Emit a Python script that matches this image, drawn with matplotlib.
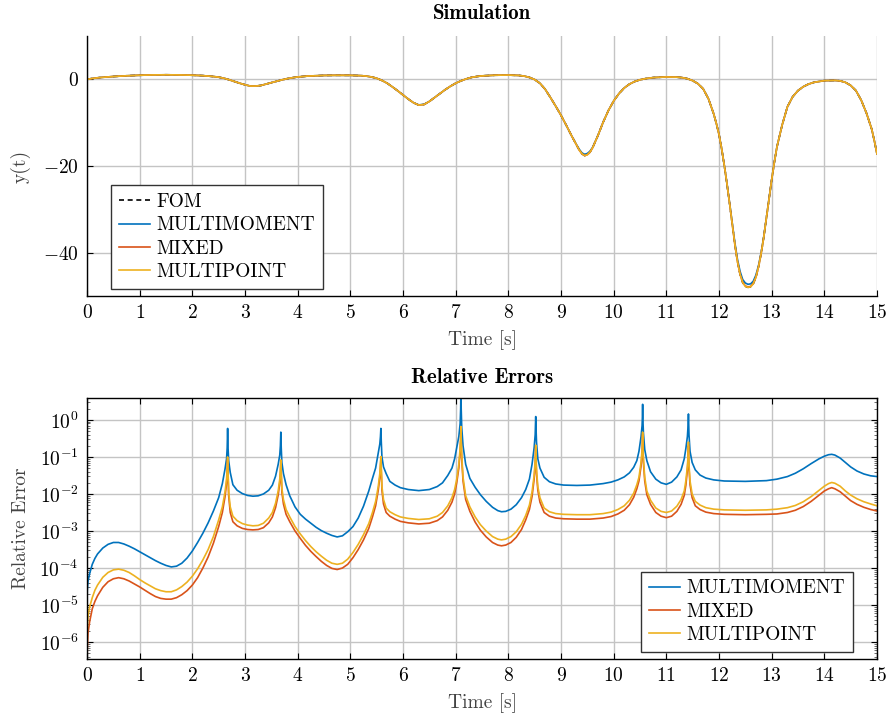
import numpy as np
import matplotlib
matplotlib.use("Agg")
import matplotlib.pyplot as plt

plt.rcParams['font.family'] = ['cmr10', 'DejaVu Serif']
plt.rcParams['mathtext.fontset'] = 'cm'
plt.rcParams['axes.formatter.use_mathtext'] = True
plt.rcParams['axes.unicode_minus'] = True

# ---------------- data: simulation ----------------
t_sim = [0, 0.1, 0.2, 0.3, 0.5, 0.75, 1.0, 1.25, 1.5, 1.75,
         2.0, 2.2, 2.4, 2.5, 2.6, 2.7, 2.8, 2.9, 3.0, 3.1,
         3.2, 3.3, 3.4, 3.5, 3.6, 3.7, 3.8, 3.9, 4.0, 4.2,
         4.5, 4.75, 5.0, 5.2, 5.3, 5.4, 5.5, 5.6, 5.7, 5.8,
         5.9, 6.0, 6.1, 6.2, 6.3, 6.4, 6.5, 6.6, 6.7, 6.8,
         6.9, 7.0, 7.1, 7.2, 7.3, 7.4, 7.5, 7.75, 8.0, 8.2,
         8.3, 8.4, 8.5, 8.6, 8.7, 8.8, 8.9, 9.0, 9.1, 9.2,
         9.3, 9.35, 9.4, 9.45, 9.5, 9.55, 9.6, 9.7, 9.8, 9.9,
         10.0, 10.1, 10.2, 10.3, 10.4, 10.5, 10.6, 10.75, 11.0, 11.2,
         11.3, 11.4, 11.5, 11.6, 11.7, 11.8, 11.9, 11.95, 12.0, 12.05,
         12.1, 12.15, 12.2, 12.25, 12.3, 12.35, 12.4, 12.45, 12.5, 12.55,
         12.6, 12.65, 12.7, 12.75, 12.8, 12.85, 12.9, 12.95, 13.0, 13.05,
         13.1, 13.2, 13.3, 13.4, 13.5, 13.6, 13.7, 13.8, 14.0, 14.2,
         14.3, 14.4, 14.5, 14.6, 14.7, 14.8, 14.9, 14.95, 15.0]

y_fom = [0.0, 0.2, 0.35, 0.47, 0.65, 0.82, 0.94, 1.02, 1.05, 1.02,
         0.95, 0.85, 0.65, 0.5, 0.25, -0.1, -0.5, -0.9, -1.25, -1.55,
         -1.55, -1.42, -1.1, -0.78, -0.45, -0.12, 0.15, 0.37, 0.55, 0.76,
         0.9, 0.93, 0.92, 0.85, 0.75, 0.55, 0.25, -0.25, -0.9, -1.75,
         -2.65, -3.6, -4.55, -5.4, -5.95, -5.8, -5.1, -4.2, -3.3, -2.4,
         -1.6, -0.9, -0.35, 0.1, 0.45, 0.65, 0.8, 0.95, 0.98, 0.9,
         0.75, 0.45, -0.05, -0.9, -2.3, -4.2, -6.2, -8.3, -10.6, -13.0,
         -15.3, -16.4, -17.2, -17.6, -17.4, -16.8, -15.8, -13.0, -9.9, -7.2,
         -5.0, -3.3, -2.0, -1.1, -0.5, -0.1, 0.15, 0.4, 0.55, 0.5,
         0.4, 0.15, -0.3, -1.0, -2.2, -4.5, -8.0, -10.2, -12.7, -16.0,
         -19.8, -24.0, -28.5, -33.2, -38.0, -42.0, -45.0, -46.9, -47.8, -48.0,
         -47.9, -47.2, -45.7, -43.3, -40.2, -36.4, -32.0, -27.5, -23.2, -19.2,
         -15.6, -10.5, -6.3, -4.0, -2.6, -1.7, -1.1, -0.7, -0.3, -0.25,
         -0.35, -0.7, -1.4, -2.6, -4.8, -7.8, -11.5, -14.2, -17.2]

y_multimoment = [0.0, 0.2, 0.35, 0.47, 0.65, 0.82, 0.94, 1.02, 1.05, 1.02,
         0.95, 0.85, 0.65, 0.5, 0.25, -0.1, -0.5, -0.9, -1.25, -1.55,
         -1.55, -1.42, -1.1, -0.78, -0.45, -0.12, 0.15, 0.37, 0.55, 0.76,
         0.9, 0.93, 0.92, 0.85, 0.75, 0.55, 0.25, -0.25, -0.9, -1.75,
         -2.65, -3.6, -4.55, -5.4, -5.9, -5.75, -5.1, -4.2, -3.3, -2.4,
         -1.6, -0.9, -0.35, 0.1, 0.45, 0.65, 0.8, 0.95, 0.98, 0.9,
         0.75, 0.45, -0.05, -0.9, -2.3, -4.2, -6.2, -8.3, -10.6, -13.0,
         -15.2, -16.2, -17.0, -17.3, -17.1, -16.6, -15.7, -13.0, -9.9, -7.2,
         -5.0, -3.3, -2.0, -1.1, -0.5, -0.1, 0.15, 0.4, 0.55, 0.5,
         0.4, 0.15, -0.3, -1.0, -2.2, -4.5, -8.0, -10.2, -12.7, -16.0,
         -19.8, -24.0, -28.4, -33.0, -37.6, -41.5, -44.3, -46.2, -47.0, -47.3,
         -47.2, -46.6, -45.2, -43.0, -40.0, -36.3, -32.0, -27.5, -23.2, -19.2,
         -15.6, -10.5, -6.3, -4.0, -2.6, -1.7, -1.1, -0.7, -0.3, -0.25,
         -0.35, -0.7, -1.4, -2.6, -4.8, -7.8, -11.5, -14.2, -17.2]

y_mixed = [0.0, 0.2, 0.35, 0.47, 0.65, 0.82, 0.94, 1.02, 1.05, 1.02,
         0.95, 0.85, 0.65, 0.5, 0.25, -0.1, -0.5, -0.9, -1.25, -1.55,
         -1.55, -1.42, -1.1, -0.78, -0.45, -0.12, 0.15, 0.37, 0.55, 0.76,
         0.9, 0.93, 0.92, 0.85, 0.75, 0.55, 0.25, -0.25, -0.9, -1.75,
         -2.65, -3.6, -4.55, -5.4, -5.95, -5.8, -5.1, -4.2, -3.3, -2.4,
         -1.6, -0.9, -0.35, 0.1, 0.45, 0.65, 0.8, 0.95, 0.98, 0.9,
         0.75, 0.45, -0.05, -0.9, -2.3, -4.2, -6.2, -8.3, -10.6, -13.0,
         -15.3, -16.4, -17.2, -17.6, -17.4, -16.8, -15.8, -13.0, -9.9, -7.2,
         -5.0, -3.3, -2.0, -1.1, -0.5, -0.1, 0.15, 0.4, 0.55, 0.5,
         0.4, 0.15, -0.3, -1.0, -2.2, -4.5, -8.0, -10.2, -12.7, -16.0,
         -19.8, -24.0, -28.5, -33.2, -38.0, -42.0, -45.0, -46.8, -47.7, -47.9,
         -47.8, -47.1, -45.7, -43.3, -40.2, -36.4, -32.0, -27.5, -23.2, -19.2,
         -15.6, -10.5, -6.3, -4.0, -2.6, -1.7, -1.1, -0.7, -0.3, -0.25,
         -0.35, -0.7, -1.4, -2.6, -4.8, -7.8, -11.5, -14.2, -17.2]

y_multipoint = [0.0, 0.2, 0.35, 0.47, 0.65, 0.82, 0.94, 1.02, 1.05, 1.02,
         0.95, 0.85, 0.65, 0.5, 0.25, -0.1, -0.5, -0.9, -1.25, -1.55,
         -1.55, -1.42, -1.1, -0.78, -0.45, -0.12, 0.15, 0.37, 0.55, 0.76,
         0.9, 0.93, 0.92, 0.85, 0.75, 0.55, 0.25, -0.25, -0.9, -1.75,
         -2.65, -3.6, -4.55, -5.4, -5.95, -5.8, -5.1, -4.2, -3.3, -2.4,
         -1.6, -0.9, -0.35, 0.1, 0.45, 0.65, 0.8, 0.95, 0.98, 0.9,
         0.75, 0.45, -0.05, -0.9, -2.3, -4.2, -6.2, -8.3, -10.6, -13.0,
         -15.3, -16.4, -17.2, -17.6, -17.4, -16.8, -15.8, -13.0, -9.9, -7.2,
         -5.0, -3.3, -2.0, -1.1, -0.5, -0.1, 0.15, 0.4, 0.55, 0.5,
         0.4, 0.15, -0.3, -1.0, -2.2, -4.5, -8.0, -10.2, -12.7, -16.0,
         -19.8, -24.0, -28.5, -33.2, -38.0, -42.0, -45.0, -46.9, -47.8, -48.0,
         -47.9, -47.2, -45.7, -43.3, -40.2, -36.4, -32.0, -27.5, -23.2, -19.2,
         -15.6, -10.5, -6.3, -4.0, -2.6, -1.7, -1.1, -0.7, -0.3, -0.25,
         -0.35, -0.7, -1.4, -2.6, -4.8, -7.8, -11.5, -14.2, -17.2]

# ---------------- data: relative errors (log10 of the value, read on the decade grid) ----------------
t_err = [0, 0.005, 0.02, 0.05, 0.1, 0.15, 0.2, 0.3, 0.4, 0.5,
         0.6, 0.7, 0.8, 0.9, 1.0, 1.1, 1.2, 1.3, 1.4, 1.5,
         1.6, 1.7, 1.8, 1.9, 2.0, 2.1, 2.2, 2.3, 2.4, 2.5,
         2.57, 2.62, 2.65, 2.662, 2.67, 2.678, 2.69, 2.72, 2.77,
         2.85, 2.95, 3.05, 3.15, 3.25, 3.35, 3.45, 3.52,
         3.58, 3.63, 3.66, 3.672, 3.68, 3.688, 3.70, 3.73, 3.78,
         3.85, 3.95, 4.05, 4.15, 4.25, 4.35, 4.45, 4.55, 4.65, 4.75,
         4.85, 4.95, 5.05, 5.15, 5.25, 5.35, 5.42,
         5.48, 5.53, 5.56, 5.572, 5.58, 5.588, 5.60, 5.63, 5.68,
         5.75, 5.85, 5.95, 6.1, 6.3, 6.5, 6.65, 6.75, 6.85, 6.93, 6.98,
         7.02, 7.06, 7.085, 7.095, 7.10, 7.105, 7.115, 7.14, 7.19,
         7.27, 7.37, 7.47, 7.58, 7.7, 7.8, 7.87, 7.95, 8.05, 8.15, 8.25, 8.33, 8.4,
         8.45, 8.49, 8.51, 8.515, 8.52, 8.525, 8.535, 8.56, 8.6,
         8.68, 8.78, 8.9, 9.05, 9.3, 9.55, 9.8, 9.95, 10.08, 10.2, 10.3, 10.38, 10.44,
         10.48, 10.52, 10.54, 10.545, 10.55, 10.555, 10.565, 10.59, 10.63,
         10.7, 10.8, 10.9, 11.0, 11.1, 11.2, 11.28, 11.34,
         11.37, 11.4, 11.413, 11.417, 11.42, 11.423, 11.43, 11.45, 11.49,
         11.55, 11.64, 11.75, 11.9, 12.1, 12.5, 12.9, 13.1, 13.3, 13.45, 13.6, 13.75,
         13.9, 14.0, 14.08, 14.14, 14.2, 14.3, 14.4, 14.5, 14.62, 14.75, 14.88, 15.0]

log10_err_multimoment = [-5.0, -4.6, -4.35, -4.15, -3.9, -3.74, -3.62, -3.46, -3.36, -3.31,
         -3.31, -3.35, -3.41, -3.48, -3.56, -3.64, -3.72, -3.8, -3.87, -3.93,
         -3.97, -3.95, -3.87, -3.73, -3.54, -3.31, -3.06, -2.78, -2.46, -2.1,
         -1.72, -1.33, -1.05, -0.75, -0.23, -0.75, -1.1, -1.42, -1.75,
         -1.9, -1.99, -2.04, -2.06, -2.05, -2.0, -1.9, -1.76,
         -1.52, -1.2, -0.95, -0.7, -0.33, -0.75, -1.15, -1.45, -1.75,
         -2.05, -2.35, -2.55, -2.68, -2.79, -2.9, -2.99, -3.06, -3.12, -3.16,
         -3.13, -3.02, -2.88, -2.65, -2.33, -1.92, -1.58,
         -1.3, -0.9, -0.65, -0.45, -0.23, -0.6, -1.0, -1.27, -1.45,
         -1.66, -1.76, -1.83, -1.88, -1.91, -1.88, -1.8, -1.7, -1.5, -1.3, -1.05,
         -0.75, -0.45, -0.1, 0.3, 0.8, 0.3, -0.2, -0.7, -1.2,
         -1.58, -1.82, -2.02, -2.2, -2.36, -2.45, -2.48, -2.47, -2.41, -2.29, -2.1, -1.88, -1.6,
         -1.2, -0.75, -0.4, -0.15, 0.09, -0.2, -0.6, -1.05, -1.3,
         -1.55, -1.67, -1.73, -1.76, -1.77, -1.76, -1.72, -1.68, -1.62, -1.54, -1.43, -1.28, -1.1,
         -0.85, -0.45, -0.15, 0.05, 0.42, 0.0, -0.35, -0.8, -1.1,
         -1.4, -1.6, -1.7, -1.74, -1.68, -1.54, -1.35, -1.05,
         -0.78, -0.45, -0.15, 0.0, 0.16, -0.05, -0.4, -0.85, -1.15,
         -1.35, -1.49, -1.57, -1.62, -1.65, -1.66, -1.64, -1.6, -1.53, -1.44, -1.32, -1.18,
         -1.05, -0.98, -0.94, -0.93, -0.95, -1.03, -1.15, -1.27, -1.38, -1.46, -1.51, -1.53]

log10_err_mixed = [-6.8, -6.2, -5.75, -5.45, -5.1, -4.9, -4.75, -4.52, -4.37, -4.29,
         -4.26, -4.29, -4.35, -4.43, -4.51, -4.6, -4.69, -4.77, -4.82, -4.84,
         -4.84, -4.8, -4.72, -4.61, -4.46, -4.26, -4.0, -3.7, -3.33, -2.88,
         -2.5, -2.08, -1.72, -1.4, -1.08, -1.5, -2.05, -2.5, -2.75,
         -2.86, -2.93, -2.96, -2.97, -2.96, -2.91, -2.78, -2.62,
         -2.37, -2.03, -1.7, -1.45, -1.15, -1.5, -1.95, -2.27, -2.55,
         -2.75, -3.0, -3.2, -3.39, -3.55, -3.69, -3.82, -3.93, -4.01, -4.04,
         -4.0, -3.9, -3.72, -3.5, -3.24, -2.93, -2.62,
         -2.32, -1.9, -1.55, -1.3, -1.05, -1.4, -1.9, -2.27, -2.5,
         -2.6, -2.68, -2.74, -2.78, -2.81, -2.79, -2.72, -2.62, -2.44, -2.22, -2.0,
         -1.7, -1.3, -0.85, -0.55, -0.25, -0.6, -1.05, -1.65, -2.15,
         -2.47, -2.76, -2.98, -3.16, -3.31, -3.38, -3.40, -3.38, -3.31, -3.17, -2.96, -2.7, -2.42,
         -2.07, -1.6, -1.2, -0.98, -0.72, -1.05, -1.45, -1.9, -2.22,
         -2.5, -2.6, -2.65, -2.67, -2.68, -2.68, -2.65, -2.61, -2.54, -2.44, -2.29, -2.09, -1.86,
         -1.65, -1.25, -0.9, -0.68, -0.4, -0.72, -1.15, -1.65, -2.02,
         -2.28, -2.5, -2.6, -2.64, -2.6, -2.47, -2.28, -2.04,
         -1.77, -1.35, -1.05, -0.9, -0.7, -0.95, -1.3, -1.75, -2.1,
         -2.32, -2.42, -2.49, -2.53, -2.55, -2.56, -2.55, -2.54, -2.5, -2.44, -2.34, -2.2,
         -2.03, -1.92, -1.86, -1.83, -1.86, -1.94, -2.06, -2.18, -2.28, -2.36, -2.42, -2.46]

log10_err_multipoint = [-6.0, -5.6, -5.3, -5.05, -4.8, -4.6, -4.46, -4.25, -4.12, -4.05,
         -4.03, -4.06, -4.12, -4.21, -4.31, -4.4, -4.48, -4.56, -4.61, -4.64,
         -4.64, -4.59, -4.5, -4.38, -4.22, -4.02, -3.78, -3.5, -3.15, -2.7,
         -2.35, -1.95, -1.6, -1.3, -1.0, -1.4, -1.95, -2.35, -2.6,
         -2.72, -2.8, -2.84, -2.86, -2.85, -2.79, -2.65, -2.5,
         -2.25, -1.92, -1.6, -1.35, -1.08, -1.4, -1.85, -2.15, -2.42,
         -2.62, -2.88, -3.08, -3.26, -3.42, -3.56, -3.68, -3.79, -3.87, -3.90,
         -3.87, -3.76, -3.58, -3.36, -3.1, -2.8, -2.5,
         -2.2, -1.8, -1.45, -1.2, -0.99, -1.3, -1.8, -2.15, -2.38,
         -2.48, -2.56, -2.62, -2.66, -2.69, -2.67, -2.6, -2.5, -2.32, -2.1, -1.88,
         -1.6, -1.2, -0.75, -0.45, -0.18, -0.5, -0.95, -1.55, -2.05,
         -2.35, -2.62, -2.83, -3.0, -3.15, -3.22, -3.24, -3.22, -3.15, -3.02, -2.82, -2.58, -2.3,
         -1.95, -1.5, -1.1, -0.9, -0.68, -0.95, -1.35, -1.8, -2.1,
         -2.38, -2.48, -2.53, -2.55, -2.56, -2.56, -2.53, -2.49, -2.42, -2.32, -2.17, -1.98, -1.75,
         -1.55, -1.15, -0.8, -0.6, -0.33, -0.65, -1.05, -1.55, -1.92,
         -2.17, -2.38, -2.47, -2.50, -2.46, -2.33, -2.15, -1.92,
         -1.65, -1.25, -0.95, -0.8, -0.60, -0.85, -1.2, -1.65, -2.0,
         -2.2, -2.3, -2.37, -2.41, -2.43, -2.44, -2.43, -2.41, -2.37, -2.31, -2.21, -2.07,
         -1.9, -1.79, -1.72, -1.69, -1.71, -1.79, -1.92, -2.03, -2.13, -2.21, -2.27, -2.32]

x_ticks = list(range(0, 16))
sim_yticks = [0, -20, -40]
sim_yticklabels = ['$0$', '$-20$', '$-40$']
err_decades = [-6, -5, -4, -3, -2, -1, 0]
methods = ['MULTIMOMENT', 'MIXED', 'MULTIPOINT']

# ---------------- style ----------------
c_blue = (0.0, 0.447, 0.741)
c_red = (0.85, 0.325, 0.098)
c_orange = (0.929, 0.694, 0.125)
grid_c = '#c4c4c4'
FS = 14
LW = 1.2
TITLE_FONT = ['cmb10', 'DejaVu Serif']
ERR_YLIM = (3.5e-7, 3.9)

fig = plt.figure(figsize=(8.89, 7.18), dpi=100)
ax1 = fig.add_axes([87/889, 1-296/718, 790/889, 260/718])
ax2 = fig.add_axes([87/889, 1-659/718, 790/889, 261/718])

legend_kw = dict(fontsize=FS, frameon=True, fancybox=False, framealpha=1,
                 edgecolor='#333333', handlelength=1.6, handletextpad=0.35,
                 labelspacing=0.28, borderpad=0.4, borderaxespad=0)

# ---- top: simulation ----
ax1.plot(t_sim, y_fom, '--', color='black', lw=LW, label='FOM', dashes=(3.0, 2.2))
ax1.plot(t_sim, y_multimoment, color=c_blue, lw=LW, label=methods[0])
ax1.plot(t_sim, y_mixed, color=c_red, lw=LW, label=methods[1])
ax1.plot(t_sim, y_multipoint, color=c_orange, lw=LW, label=methods[2])
ax1.set_xlim(0, 15)
ax1.set_ylim(-50, 10)
ax1.set_xticks(x_ticks)
ax1.set_xticklabels([f'${v}$' for v in x_ticks])
ax1.set_yticks(sim_yticks)
ax1.set_yticklabels(sim_yticklabels)
ax1.grid(True, color=grid_c, lw=1.0)
ax1.set_axisbelow(True)
ax1.spines['top'].set_visible(False)
ax1.spines['right'].set_visible(False)
for s in ('left', 'bottom'):
    ax1.spines[s].set_linewidth(1.0)
ax1.tick_params(direction='in', length=4, width=0.8, labelsize=FS, pad=6)
ax1.set_xlabel('Time [s]', fontsize=FS, color='#444444', labelpad=6)
ax1.set_ylabel('y(t)', fontsize=FS, color='#444444', labelpad=9)
ax1.set_title('Simulation', fontsize=15, family=TITLE_FONT, fontweight='bold', pad=12)
leg1 = ax1.legend(loc='lower left', bbox_to_anchor=(24/790, 7/260), **legend_kw)
leg1.get_frame().set_linewidth(1.0)

# ---- bottom: relative errors ----
ax2.semilogy(t_err, 10.0 ** np.array(log10_err_multimoment), color=c_blue, lw=LW, label=methods[0])
ax2.semilogy(t_err, 10.0 ** np.array(log10_err_mixed), color=c_red, lw=LW, label=methods[1])
ax2.semilogy(t_err, 10.0 ** np.array(log10_err_multipoint), color=c_orange, lw=LW, label=methods[2])
ax2.set_xlim(0, 15)
ax2.set_ylim(*ERR_YLIM)
ax2.set_xticks(x_ticks)
ax2.set_xticklabels([f'${v}$' for v in x_ticks])
major = [10.0 ** e for e in err_decades]
ax2.set_yticks(major)
ax2.set_yticklabels([f'$10^{{{e}}}$' for e in err_decades])
minor = [k * 10.0 ** e for e in range(-7, 1) for k in range(2, 10)]
minor = [m for m in minor if ERR_YLIM[0] <= m <= ERR_YLIM[1]]
ax2.set_yticks(minor, minor=True)
ax2.set_yticklabels([''] * len(minor), minor=True)
ax2.set_ylim(*ERR_YLIM)
ax2.grid(True, which='major', color=grid_c, lw=1.0)
ax2.grid(False, which='minor')
ax2.set_axisbelow(True)
for s in ax2.spines.values():
    s.set_linewidth(1.0)
ax2.tick_params(which='both', direction='in', top=True, right=True, labelsize=FS, pad=6)
ax2.tick_params(which='major', length=4, width=0.8)
ax2.tick_params(which='minor', length=2.2, width=0.6, color='#555555')
ax2.set_xlabel('Time [s]', fontsize=FS, color='#444444', labelpad=6)
ax2.set_ylabel('Relative Error', fontsize=FS, color='#444444', labelpad=7)
ax2.set_title('Relative Errors', fontsize=15, family=TITLE_FONT, fontweight='bold', pad=11)
leg2 = ax2.legend(loc='lower right', bbox_to_anchor=(1 - 24/790, 7/261), **legend_kw)
leg2.get_frame().set_linewidth(1.0)

fig.savefig('out.png', dpi=100)
